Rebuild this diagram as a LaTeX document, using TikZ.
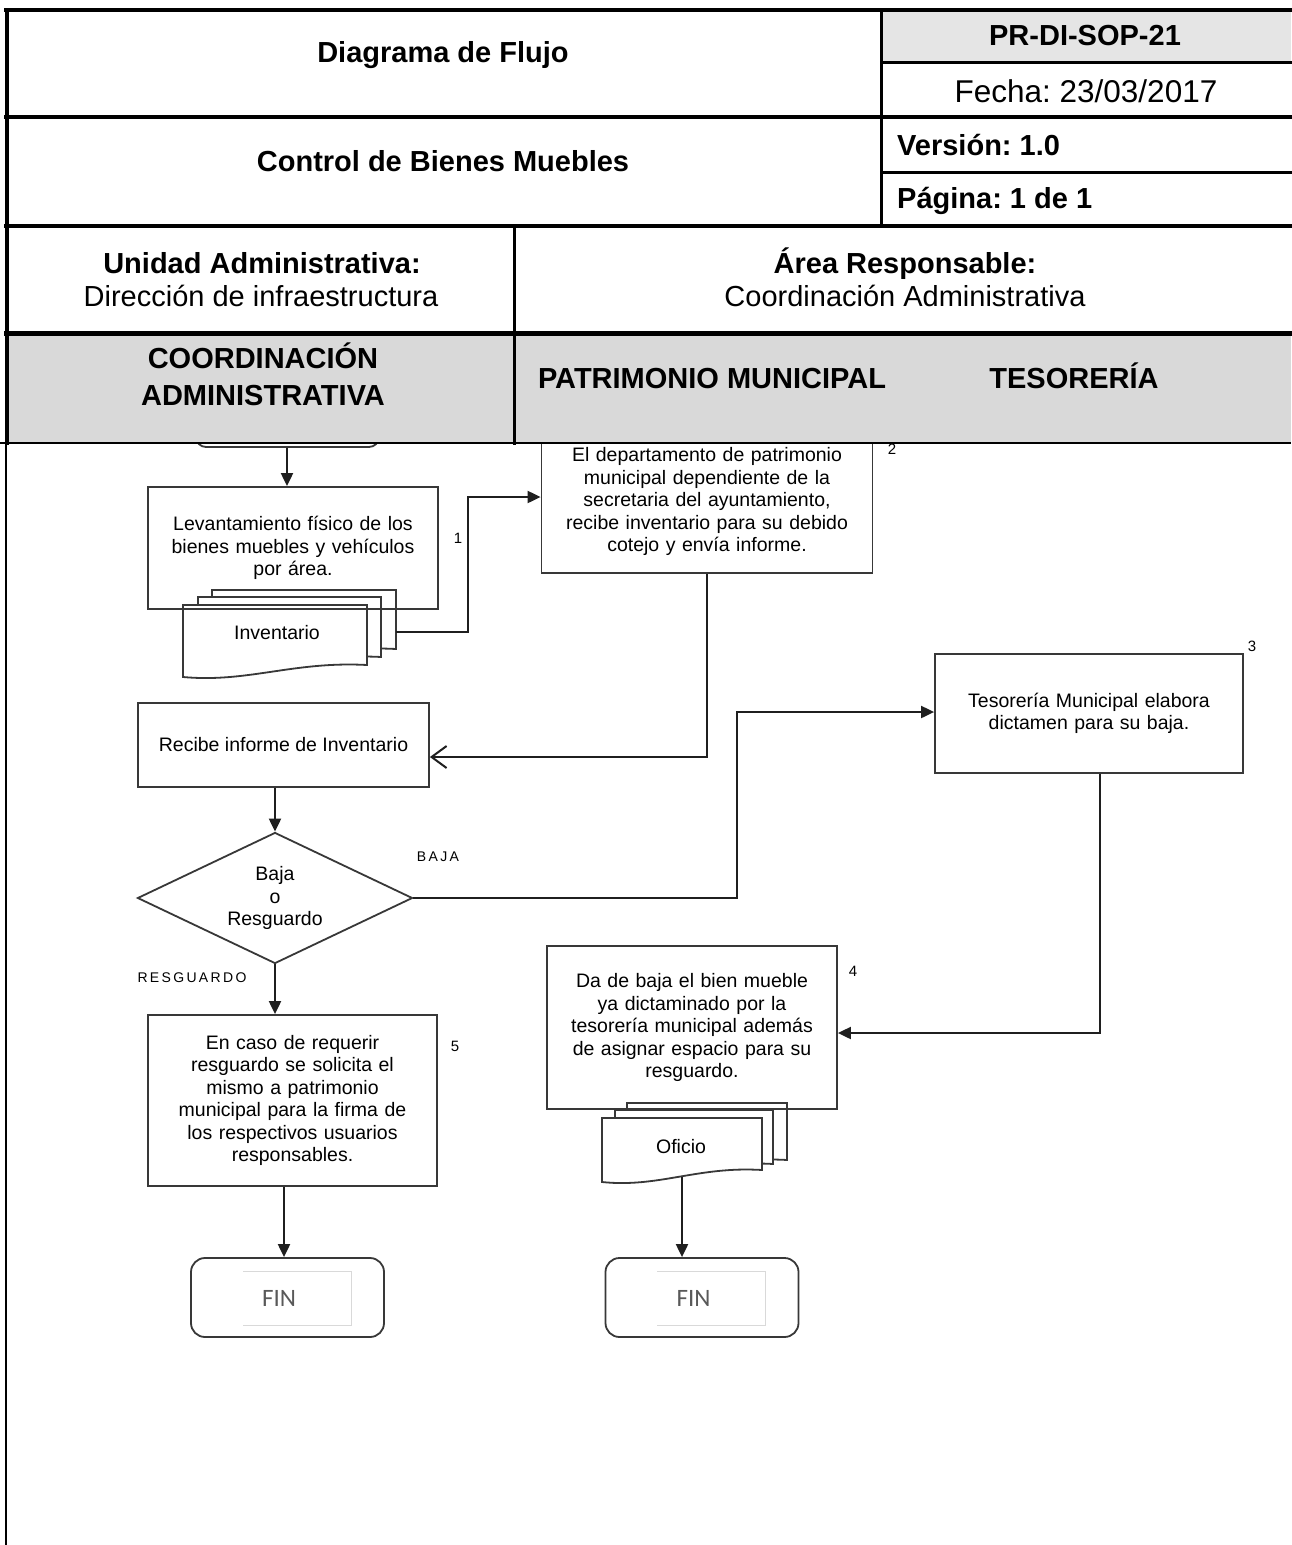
\documentclass[tikz,border=0pt]{standalone}
\usepackage{fontspec}
\setmainfont{Liberation Sans}
\newfontfamily\finfont{Carlito}
\usetikzlibrary{shapes.geometric,arrows.meta,calc}
\frenchspacing
\newcommand\docshp[4]{\filldraw[docsty] (#1,#3) -- (#2,#3) -- (#2,{#4-12}) .. controls ({#1+0.6*(#2-#1)},{#4-16}) and ({#1+0.35*(#2-#1)},{#4+6}) .. (#1,#4) -- cycle;}
\begin{document}
\frenchspacing
\begin{tikzpicture}[x=1pt,y=-1pt,
  flowbox/.style={draw=black!78, line width=1.8pt, inner sep=0pt},
  docsty/.style={draw=black!78, fill=white, line width=1.8pt},
  txt/.style={font=\fontsize{19.5}{22.5}\selectfont, align=center},
  arr/.style={line width=2pt, draw=black!88, -{Triangle[length=13pt,width=12pt]}},
  openarr/.style={line width=2pt, draw=black!88, -{Straight Barb[length=15pt,width=22pt]}},
  lab/.style={font=\fontsize{15}{15}\selectfont, inner sep=0pt},
  hb/.style={font=\bfseries\fontsize{29}{34}\selectfont, inner sep=0pt},
  hr/.style={font=\fontsize{29}{34}\selectfont, inner sep=0pt},
  finbox/.style={draw=black!78, line width=1.8pt, rounded corners=14pt, minimum width=193pt, minimum height=79pt},
  fintxt/.style={font=\finfont\fontsize{25}{25}\selectfont, text=black!65, inner sep=0pt},
  hline/.style={draw=black, line cap=rect}
]
\useasboundingbox (0,0) rectangle (1291,1545);
\fill[white] (0,0) rectangle (1291,1545);

% ---------- flow ----------
\node[flowbox, rounded corners=10pt, minimum width=183pt, minimum height=60pt] (start) at (287.5,417) {};
\node[flowbox, fill=white, minimum width=331pt, minimum height=143pt, text width=310pt, txt] (box2) at (707,501.5)
  {El departamento de patrimonio\\ municipal dependiente de la\\ secretaria del ayuntamiento,\\ recibe inventario para su debido\\ cotejo y envía informe.};

% document stack Inventario
\docshp{212}{396}{590}{661}
\docshp{198}{381}{597}{669}
\docshp{183}{367}{605}{677}
\node[txt, inner sep=0pt] (invtxt) at (277,633) {Inventario};
\coordinate (invR) at (396,632);

\node[flowbox, minimum width=290pt, minimum height=122pt, text width=270pt, txt] (box1) at (293,548)
  {Levantamiento físico de los\\ bienes muebles y vehículos\\ por área.};

\node[flowbox, minimum width=291pt, minimum height=84pt, txt] (recibe) at (283.5,745) {Recibe informe de Inventario};

\node[draw=black!78, line width=1.8pt, diamond, aspect=2.1, minimum width=275pt, minimum height=131pt, inner sep=0pt, txt] (dia) at (275,898) {Baja\\ o\\ Resguardo};

\node[flowbox, minimum width=308pt, minimum height=119pt, text width=290pt, txt] (box3) at (1089,713.5)
  {Tesorería Municipal elabora\\ dictamen para su baja.};

% document stack Oficio
\docshp{627}{787}{1103}{1172}
\docshp{615}{773}{1110}{1176}
\docshp{602}{762}{1118}{1182}
\node[txt, inner sep=0pt] (ofitxt) at (681,1147) {Oficio};
\coordinate (ofiB) at (682,1177);

\node[flowbox, minimum width=290pt, minimum height=163pt, text width=275pt, txt] (box4) at (692,1027.5)
  {Da de baja el bien mueble\\ ya dictaminado por la\\ tesorería municipal además\\ de asignar espacio para su\\ resguardo.};

\node[flowbox, minimum width=289pt, minimum height=171pt, text width=275pt, txt] (box5) at (292.5,1100.5)
  {En caso de requerir\\ resguardo se solicita el\\ mismo a patrimonio\\ municipal para la firma de\\ los respectivos usuarios\\ responsables.};

\node[finbox] (fin1) at (287.5,1297.5) {};
\node[finbox] (fin2) at (702,1297.5) {};
\draw[black!15, line width=1pt] (243,1271) -- (351,1271) -- (351,1325) -- (243,1325);
\draw[black!15, line width=1pt] (657,1271) -- (765,1271) -- (765,1325) -- (657,1325);
\node[fintxt] (fin1t) at (279,1298) {FIN};
\node[fintxt] (fin2t) at (693.5,1298) {FIN};

% labels
\node[lab] (l1) at (458,538) {1};
\node[lab] (l2) at (892,449) {2};
\node[lab] (l3) at (1252,646) {3};
\node[lab] (l4) at (853,971) {4};
\node[lab] (l5) at (455,1046) {5};
\node[lab, font=\fontsize{14}{14}\selectfont] (lbaja) at (438,857) {B\,A\,J\,A};
\node[lab, font=\fontsize{14}{14}\selectfont] (lres) at (192,978) {R\,E\,S\,G\,U\,A\,R\,D\,O};

% connectors
\draw[arr] (start.south -| 287,0) -- (box1.north -| 287,0);
\draw[arr] (invR) -- (468,632) |- ([yshift=4.5pt]box2.west);
\draw[openarr] (box2.south) |- ([yshift=-12pt]recibe.east);
\draw[arr] (dia.north |- recibe.south) -- (dia.north);
\draw[arr] (dia.east) -- (737,898) |- ([yshift=1.5pt]box3.west);
\draw[arr] ([xshift=11pt]box3.south) |- ([yshift=-5.5pt]box4.east);
\draw[arr] (dia.south) -- (dia.south |- box5.north);
\draw[arr] (ofiB) -- (ofiB |- fin2.north);
\draw[arr] (box5.south -| 284,0) -- (fin1.north -| 284,0);

% ---------- header ----------
\fill[white] (0,0) rectangle (1291,333);
\fill[black!10] (881,10) rectangle (1291,62);
\fill[black!15] (6,333) rectangle (1291,443);
\draw[hline, line width=4pt] (6,10) -- (1291,10);
\draw[hline, line width=3pt] (881,62) -- (1291,62);
\draw[hline, line width=3.5pt] (6,117) -- (1291,117);
\draw[hline, line width=3pt] (881,172) -- (1291,172);
\draw[hline, line width=4pt] (6,226) -- (1291,226);
\draw[hline, line width=5pt] (6,333) -- (1291,333);
\draw[draw=black, line width=2.5pt] (0,443) -- (1291,443);
\draw[hline, line width=3pt] (881,10) -- (881,226);
\draw[hline, line width=3pt] (514,226) -- (514,443);
\draw[hline, line width=4pt] (7,10) -- (7,443);
\draw[draw=black, line width=2pt] (6,443) -- (6,1545);

\node[hb, anchor=base] (t1) at (443,62) {Diagrama de Flujo};
\node[hb, anchor=base] (t2) at (1085,45) {PR-DI-SOP-21};
\node[hr, anchor=base, font=\fontsize{31.5}{34}\selectfont] (t3) at (1086,102) {Fecha: 23/03/2017};
\node[hb, anchor=base] (t4) at (443,171) {Control de Bienes Muebles};
\node[hb, anchor=base west] (t5) at (897,155) {Versión: 1.0};
\node[hb, anchor=base west] (t6) at (897,208) {Página: 1 de 1};
\node[hb, anchor=base] (t7) at (262,273) {Unidad Administrativa:};
\node[hr, anchor=base] (t8) at (261,306) {Dirección de infraestructura};
\node[hb, anchor=base] (t9) at (905,273) {Área Responsable:};
\node[hr, anchor=base] (t10) at (905,306) {Coordinación Administrativa};
\node[hb, anchor=base] (t11) at (263,368) {COORDINACIÓN};
\node[hb, anchor=base] (t12) at (263,405) {ADMINISTRATIVA};
\node[hb, anchor=base] (t13) at (712,388) {PATRIMONIO MUNICIPAL};
\node[hb, anchor=base] (t14) at (1074,388) {TESORERÍA};
\end{tikzpicture}
\end{document}
